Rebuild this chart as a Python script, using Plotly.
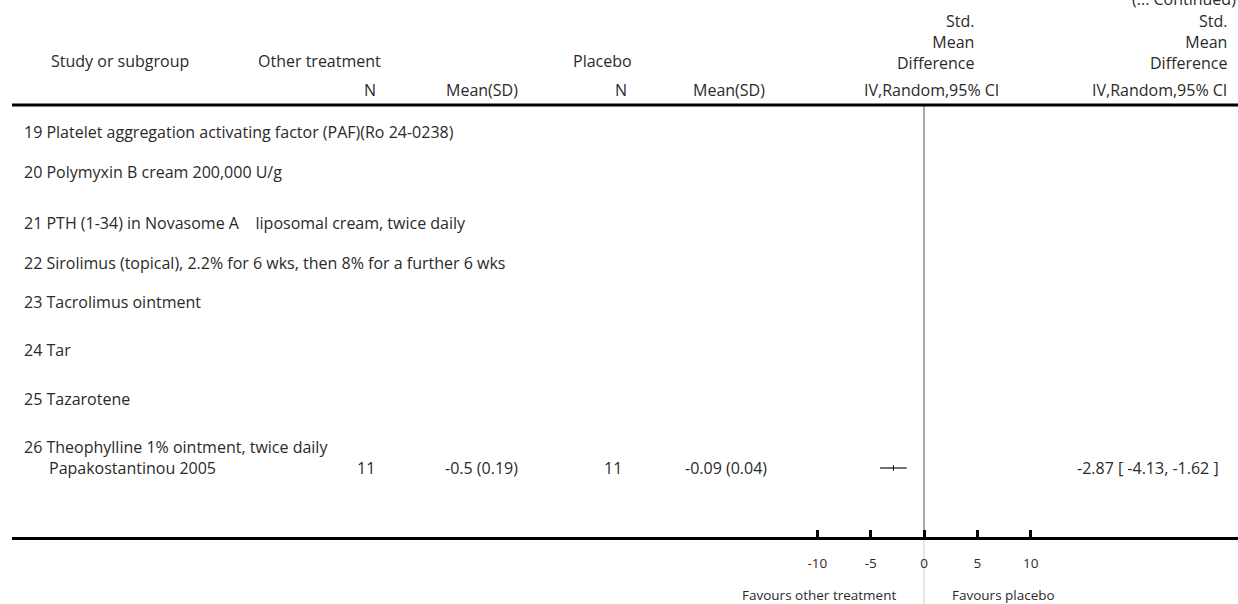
import plotly.graph_objects as go

# ---------------- data ----------------
subgroups = [
    "19 Platelet aggregation activating factor (PAF)(Ro 24-0238)",
    "20 Polymyxin B cream 200,000 U/g",
    "21 PTH (1-34) in Novasome A    liposomal cream, twice daily",
    "22 Sirolimus (topical), 2.2% for 6 wks, then 8% for a further 6 wks",
    "23 Tacrolimus ointment",
    "24 Tar",
    "25 Tazarotene",
    "26 Theophylline 1% ointment, twice daily",
]
study_names = ["Papakostantinou 2005"]
n_trt = [11]
mean_trt = [-0.5]
sd_trt = [0.19]
n_pl = [11]
mean_pl = [-0.09]
sd_pl = [0.04]
smd = [-2.87]
ci_lo = [-4.13]
ci_hi = [-1.62]
axis_ticks = [-10, -5, 0, 5, 10]
effect_header = ["Std.", "Mean", "Difference"]

# ---------------- layout helpers ----------------
W, H = 1238, 604
FONT = "Open Sans"
FS = 16
TC = "#2a2a2a"
subgroup_y = [132, 172, 223, 263, 302, 350, 399, 447]
study_y = [468]

px_per_unit = 10.667
zero_px = 924
left_px = 12
x0 = (left_px - zero_px) / px_per_unit
x1 = (W - zero_px) / px_per_unit

annotations = []

def txt(text, xpx, y, anchor="left", size=FS, color=TC):
    annotations.append(dict(
        text=text, x=xpx / W, xref="paper", y=y, yref="y",
        xanchor=anchor, yanchor="middle", showarrow=False,
        font=dict(family=FONT, size=size, color=color), align=anchor,
    ))

# header
annotations.append(dict(
    text="(... Continued)", x=1.0, xref="paper", y=1 + 1 / H, yref="paper",
    xanchor="right", yanchor="middle", showarrow=False,
    font=dict(family=FONT, size=FS, color=TC),
))
txt("<br>".join(effect_header), 976, 41.5, "right")
txt("<br>".join(effect_header), 1229, 41.5, "right")
txt("Study or subgroup", 49, 61)
txt("Other treatment", 256, 61)
txt("Placebo", 571, 61)
txt("N", 378, 90, "right")
txt("Mean(SD)", 520, 90, "right")
txt("N", 629, 90, "right")
txt("Mean(SD)", 767, 90, "right")
txt("IV,Random,95% CI", 931, 90, "center")
txt("IV,Random,95% CI", 1229, 90, "right")

for name, y in zip(subgroups, subgroup_y):
    txt(name, 22, y)

for i, y in enumerate(study_y):
    txt(study_names[i], 47, y)
    txt(str(n_trt[i]), 377, y, "right")
    txt(f"{mean_trt[i]} ({sd_trt[i]})", 520, y, "right")
    txt(str(n_pl[i]), 624, y, "right")
    txt(f"{mean_pl[i]} ({sd_pl[i]})", 769, y, "right")
    txt(f"{smd[i]:.2f} [ {ci_lo[i]:.2f}, {ci_hi[i]:.2f} ]", 1221, y, "right")

txt("Favours other treatment", 898, 595, "right", size=13.5)
txt("Favours placebo", 950, 595, "left", size=13.5)

fig = go.Figure()

# vertical line of no effect
fig.add_trace(go.Scatter(x=[0, 0], y=[106, 537], mode="lines",
                         line=dict(color="#a8a8a8", width=2), hoverinfo="skip"))
fig.add_trace(go.Scatter(x=[0, 0], y=[540, 604], mode="lines",
                         line=dict(color="#dcdcdc", width=1.5), hoverinfo="skip"))

# CI lines and point estimates
for i, y in enumerate(study_y):
    fig.add_trace(go.Scatter(x=[ci_lo[i], ci_hi[i]], y=[y, y], mode="lines",
                             line=dict(color="#111111", width=1.2), hoverinfo="skip"))
    fig.add_trace(go.Scatter(x=[smd[i]], y=[y], mode="markers",
                             marker=dict(symbol="line-ns", size=4,
                                         line=dict(color="#111111", width=1)),
                             hoverinfo="skip"))

shapes = [
    dict(type="line", xref="paper", yref="y", x0=left_px / W, x1=1, y0=105, y1=105,
         line=dict(color="black", width=3)),
]

fig.update_layout(
    width=W, height=H,
    margin=dict(l=0, r=0, t=0, b=0),
    paper_bgcolor="white", plot_bgcolor="white",
    showlegend=False,
    annotations=annotations,
    shapes=shapes,
    xaxis=dict(
        domain=[left_px / W, 1], range=[x0, x1],
        anchor="free", position=1 - 538 / H,
        showgrid=False, zeroline=False,
        showline=True, linecolor="black", linewidth=3,
        ticks="inside", ticklen=7, tickwidth=2.5, tickcolor="black",
        tickvals=axis_ticks, ticktext=[str(t) for t in axis_ticks],
        tickfont=dict(family=FONT, size=13.5, color=TC),
        ticklabelstandoff=12,
        fixedrange=True,
    ),
    yaxis=dict(range=[H, 0], domain=[0, 1], visible=False, fixedrange=True),
)

fig.write_html("out.html", config={"displayModeBar": False},
               post_script="document.body.style.margin='0';")
